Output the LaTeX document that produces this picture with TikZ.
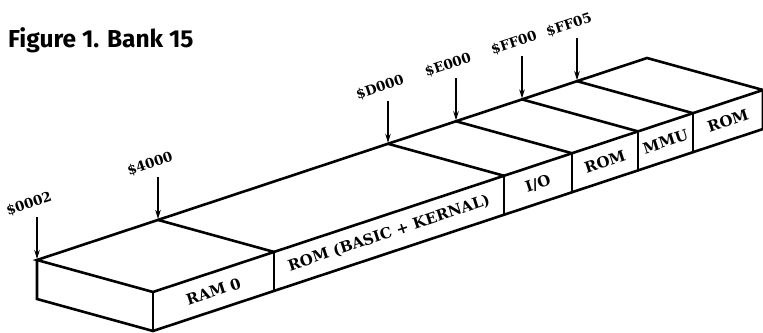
\documentclass[tikz,border=0pt]{standalone}
\usepackage{fontspec}
\newfontfamily\labfont{DejaVu Serif}
\newfontfamily\titlefont{Fira Sans}
\usetikzlibrary{arrows.meta,calc}
\tikzset{
  edge/.style={line width=2.6pt, line join=miter, line cap=round},
  addr/.style={line width=1.3pt, -{Stealth[length=9pt,width=5.5pt]}, shorten >=1pt},
  addrlab/.style={font=\labfont\bfseries\fontsize{13.5}{14}\selectfont, rotate=18.4, inner sep=0pt},
  facelab/.style={font=\labfont\bfseries\fontsize{15}{16}\selectfont, rotate=18.4, inner sep=0pt},
}
\begin{document}
\begin{tikzpicture}[x=1pt,y=-1pt]
\useasboundingbox (0,0) rectangle (763,332);
% back edge points
\foreach \n/\x in {0/37,1/158,2/388,3/456,4/522,5/577,6/647}{
  \coordinate (B\n) at (\x,{260-(\x-37)*0.33115});
  \coordinate (F\n) at ($(B\n)+(116,32)$);
  \coordinate (Fb\n) at ($(F\n)+(0,39)$);
}
\coordinate (Bb0) at ($(B0)+(0,39)$);
% top face
\draw[edge] (B0) -- (B6) -- (F6) -- (F0) -- cycle;
\foreach \n in {1,...,5}{ \draw[edge] (B\n) -- (F\n); \draw[edge] (F\n) -- (Fb\n); }
% front and left faces
\draw[edge] (B0) -- (Bb0) -- (Fb0) -- (Fb6) -- (F6);
\draw[edge] (F0) -- (Fb0);
% front labels
\node[facelab] (l0) at ($(F0)!0.5!(F1)+(0,19.5)$) {RAM 0};
\node[facelab] (l1) at ($(F1)!0.5!(F2)+(0,19.5)$) {ROM (BASIC + KERNAL)};
\node[facelab] (l2) at ($(F2)!0.5!(F3)+(0,19.5)$) {I/O};
\node[facelab] (l3) at ($(F3)!0.5!(F4)+(0,19.5)$) {ROM};
\node[facelab] (l4) at ($(F4)!0.5!(F5)+(0,19.5)$) {MMU};
\node[facelab] (l5) at ($(F5)!0.5!(F6)+(0,19.5)$) {ROM};
% address arrows
\foreach \n/\t in {0/\$0002,1/\$4000,2/\$D000,3/\$E000,4/\$FF00,5/\$FF05}{
  \coordinate (A\n) at ($(B\n)+(0,-43)$);
  \draw[addr] (A\n) -- (B\n);
  \node[addrlab] (t\n) at ($(B\n)+(-8,-56)$) {\t};
}
% title
\node[anchor=base west, inner sep=0pt, font=\titlefont\bfseries\fontsize{24.5}{26}\selectfont] (title) at (8,47) {Figure 1. Bank 15};
\end{tikzpicture}
\end{document}
